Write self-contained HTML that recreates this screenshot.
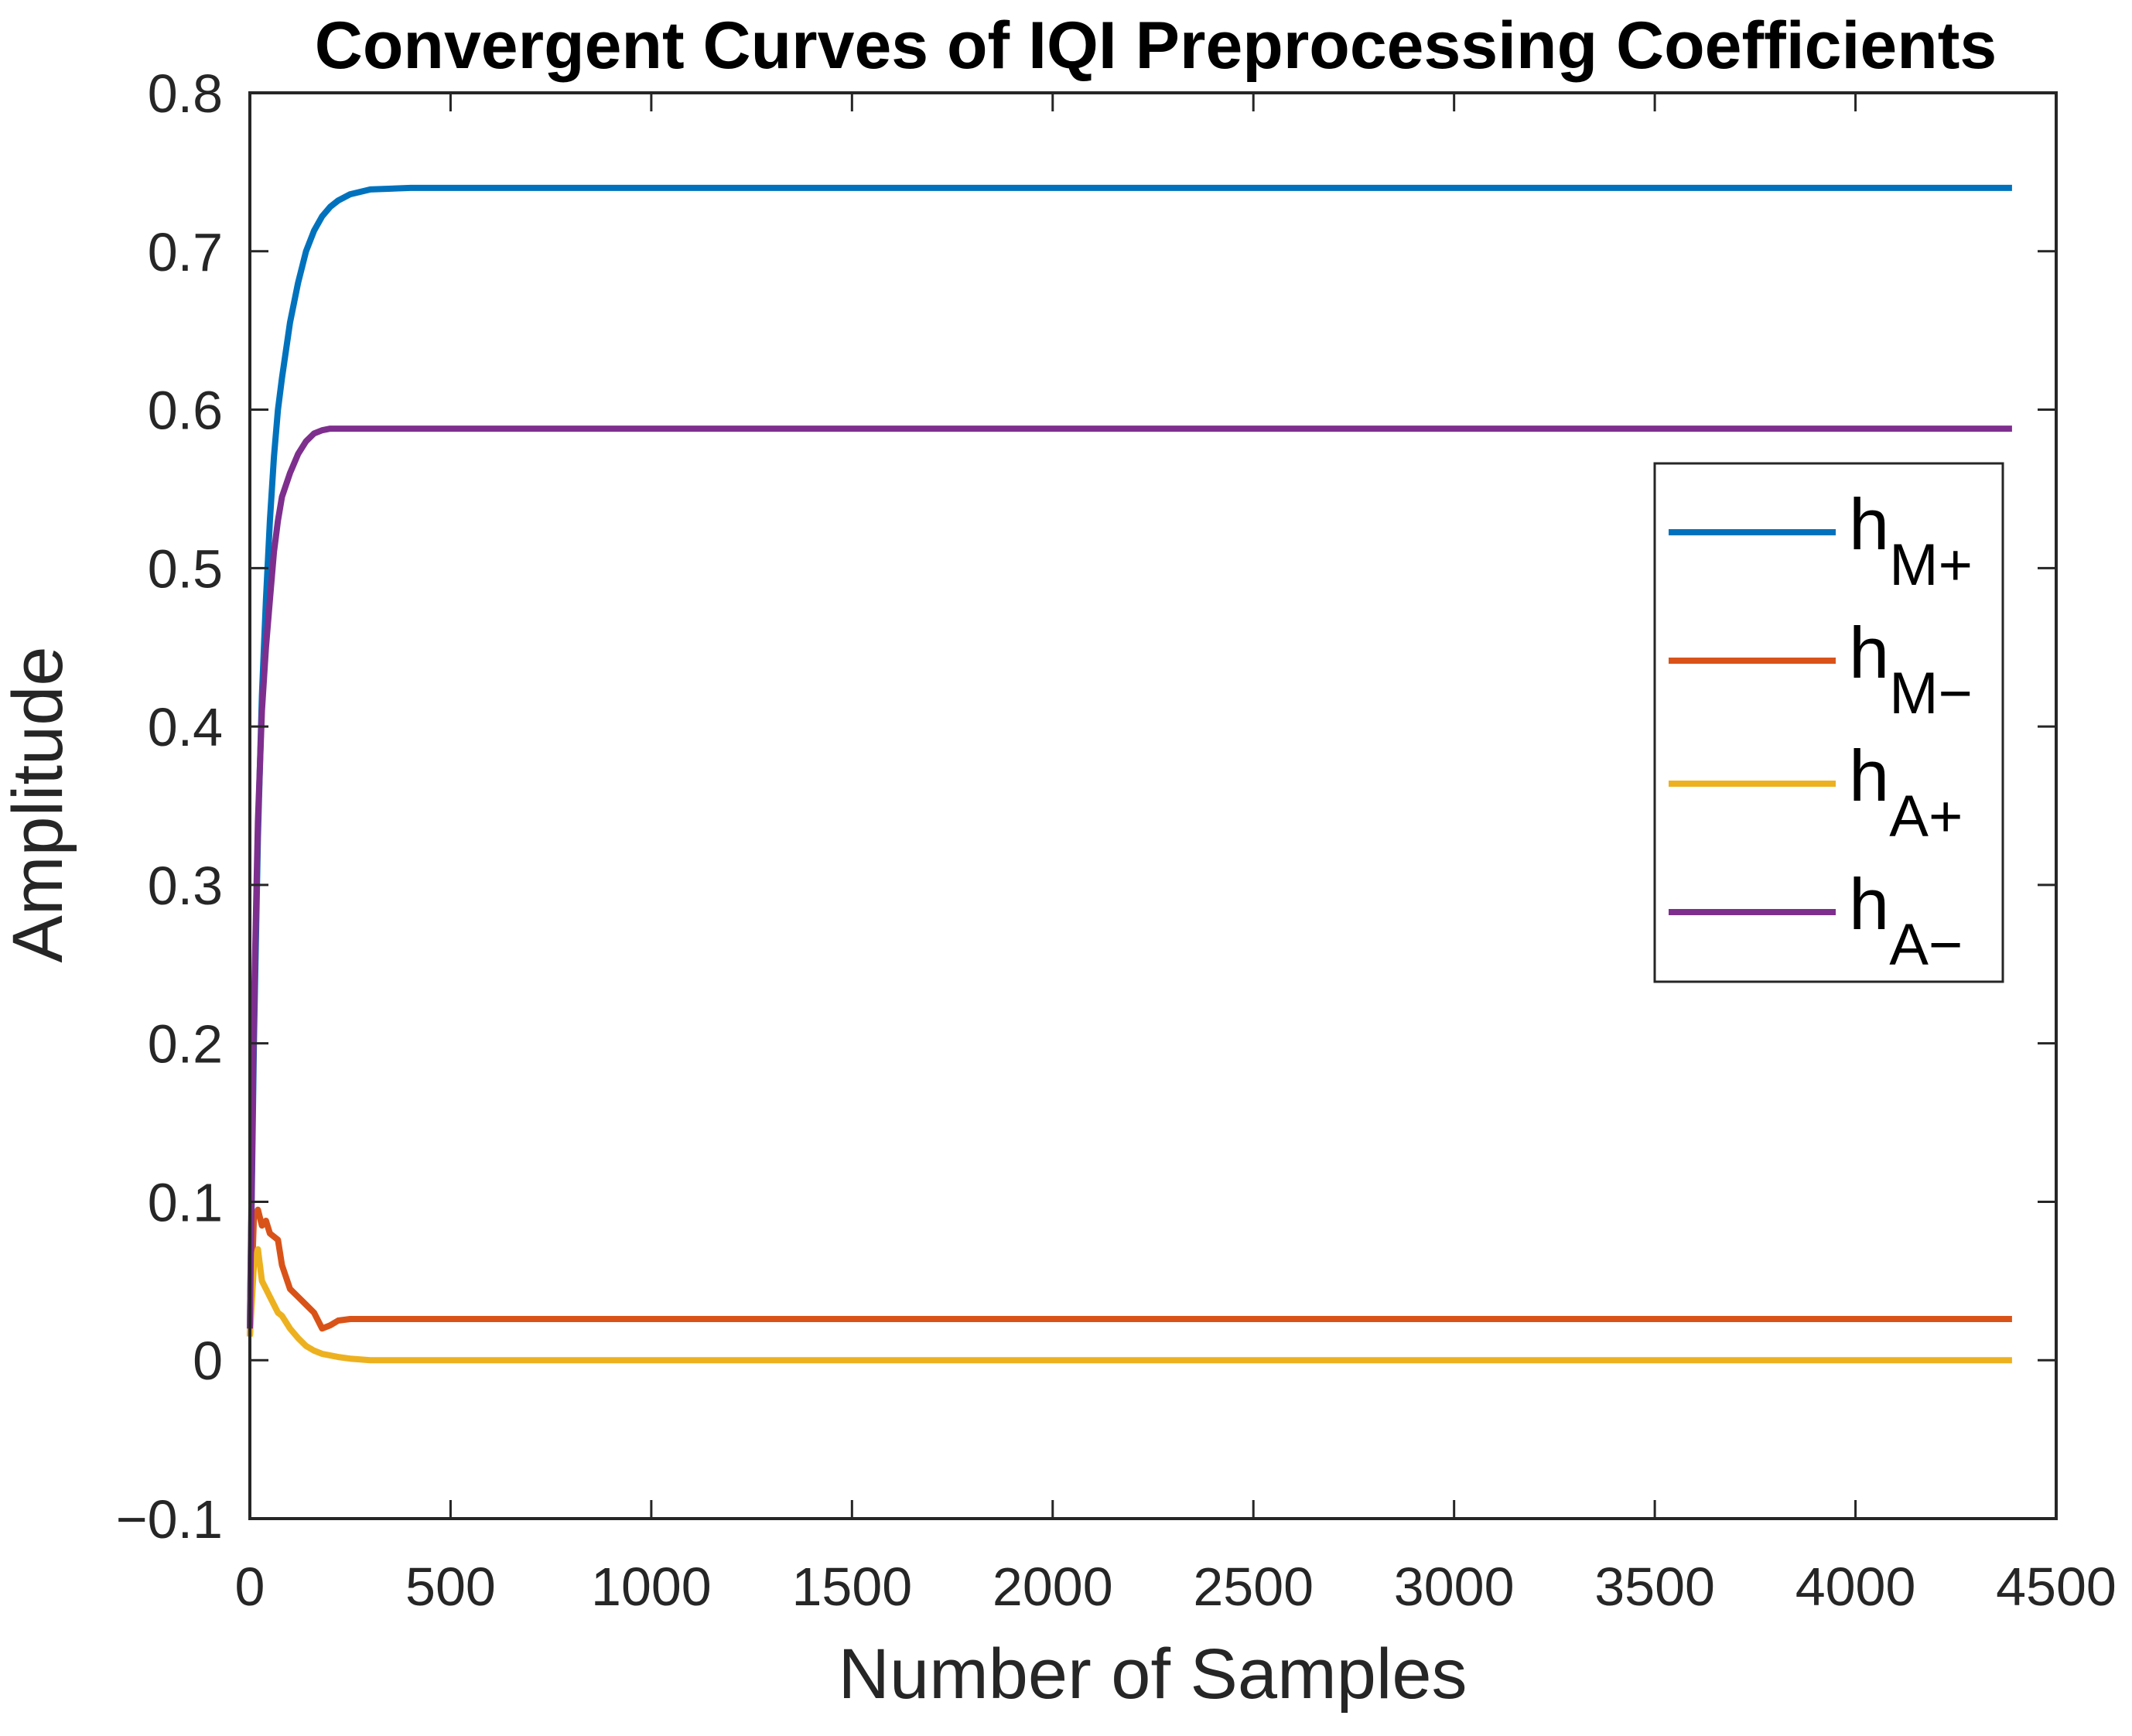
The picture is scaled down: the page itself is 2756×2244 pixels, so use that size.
<!DOCTYPE html>
<html><head><meta charset="utf-8"><style>
html,body{margin:0;padding:0;background:#fff;}
svg text{font-family:"Liberation Sans",Arial,sans-serif;}
</style></head><body>
<svg id="chart" width="2756" height="2239" viewBox="0 0 2756 2239" xmlns="http://www.w3.org/2000/svg">
<rect width="2756" height="2239" fill="#fff"/>
<text x="1494" y="88" text-anchor="middle" font-size="86" font-weight="bold" fill="#000">Convergent Curves of IQI Preprocessing Coefficients</text>
<g id="plot"></g>
<text x="1490" y="2195" text-anchor="middle" font-size="92" fill="#262626">Number of Samples</text>
<text transform="translate(80,1040) rotate(-90)" text-anchor="middle" font-size="92" fill="#262626">Amplitude</text>
</svg>
<script>
const xTicks=[0,500,1000,1500,2000,2500,3000,3500,4000,4500];
const yTicks=[-0.1,0,0.1,0.2,0.3,0.4,0.5,0.6,0.7,0.8];
const yTickLabels=["\u22120.1","0","0.1","0.2","0.3","0.4","0.5","0.6","0.7","0.8"];
const seriesNames=["M+","M\u2212","A+","A\u2212"];
const seriesColors=["#0072BD","#D95319","#EDB120","#7E2F8E"];
const sampleX=[0,10,20,30,40,50,60,70,80,100,120,140,160,180,200,220,250,300,400,1000,2000,3000,4000,4390];
const hMplus=[0.02,0.2,0.33,0.42,0.48,0.53,0.57,0.6,0.62,0.655,0.68,0.7,0.713,0.722,0.728,0.732,0.736,0.739,0.74,0.74,0.74,0.74,0.74,0.74];
const hMminus=[0.015,0.09,0.095,0.085,0.088,0.08,0.078,0.076,0.06,0.045,0.04,0.035,0.03,0.02,0.022,0.025,0.026,0.026,0.026,0.026,0.026,0.026,0.026,0.026];
const hAplus=[0.015,0.06,0.07,0.05,0.045,0.04,0.035,0.03,0.028,0.02,0.014,0.009,0.006,0.004,0.003,0.002,0.001,0,0,0,0,0,0,0];
const hAminus=[0.02,0.22,0.34,0.41,0.45,0.48,0.51,0.53,0.545,0.56,0.572,0.58,0.585,0.587,0.588,0.588,0.588,0.588,0.588,0.588,0.588,0.588,0.588,0.588];
const allSeries=[hMplus,hMminus,hAplus,hAminus];

const NS="http://www.w3.org/2000/svg";
const L=323,R=2658,T=120,B=1963;
const xS=v=>L+(v-0)/(4500-0)*(R-L);
const yS=v=>B-(v+0.1)/(0.9)*(B-T);
const g=document.getElementById('plot');
function mk(tag,attrs){const e=document.createElementNS(NS,tag);for(const k in attrs)e.setAttribute(k,attrs[k]);g.appendChild(e);return e;}

allSeries.forEach((s,i)=>{
  const d=s.map((v,j)=>(j?'L':'M')+xS(sampleX[j]).toFixed(1)+','+yS(v).toFixed(1)).join(' ');
  const p=mk('path',{d:d,fill:'none',stroke:seriesColors[i],'stroke-width':8,'stroke-linejoin':'round'});
  
  
});

const box=mk('rect',{x:L,y:T,width:R-L,height:B-T,fill:'none',stroke:'#262626','stroke-width':4});



xTicks.forEach(v=>{
  const x=xS(v);
  const t1=mk('line',{x1:x,y1:B,x2:x,y2:B-24,stroke:'#262626','stroke-width':3});
  
  
  const t2=mk('line',{x1:x,y1:T,x2:x,y2:T+24,stroke:'#262626','stroke-width':3});
  
  
  const tx=mk('text',{x:x,y:2075,'text-anchor':'middle','font-size':70,fill:'#262626'});
  tx.textContent=v;
  
  
});
yTicks.forEach((v,i)=>{
  const y=yS(v);
  const t1=mk('line',{x1:L,y1:y,x2:L+24,y2:y,stroke:'#262626','stroke-width':3});
  
  
  const t2=mk('line',{x1:R,y1:y,x2:R-24,y2:y,stroke:'#262626','stroke-width':3});
  
  
  const tx=mk('text',{x:288,y:y+25,'text-anchor':'end','font-size':70,fill:'#262626'});
  tx.textContent=yTickLabels[i];
  
  
});

const lg=mk('rect',{x:2139,y:599,width:450,height:670,fill:'#fff',stroke:'#262626','stroke-width':3});


const legY=[688,854,1013,1179];
seriesNames.forEach((n,i)=>{
  const ln=mk('line',{x1:2157,y1:legY[i],x2:2373,y2:legY[i],stroke:seriesColors[i],'stroke-width':8});
  
  
  const t=mk('text',{x:2390,y:legY[i]+22,'font-size':94,fill:'#000'});
  
  
  t.textContent='h';
  const sub=document.createElementNS(NS,'tspan');
  sub.setAttribute('dy','46');
  sub.setAttribute('font-size','76');
  sub.textContent=n;
  t.appendChild(sub);
});
</script>
</body></html>
